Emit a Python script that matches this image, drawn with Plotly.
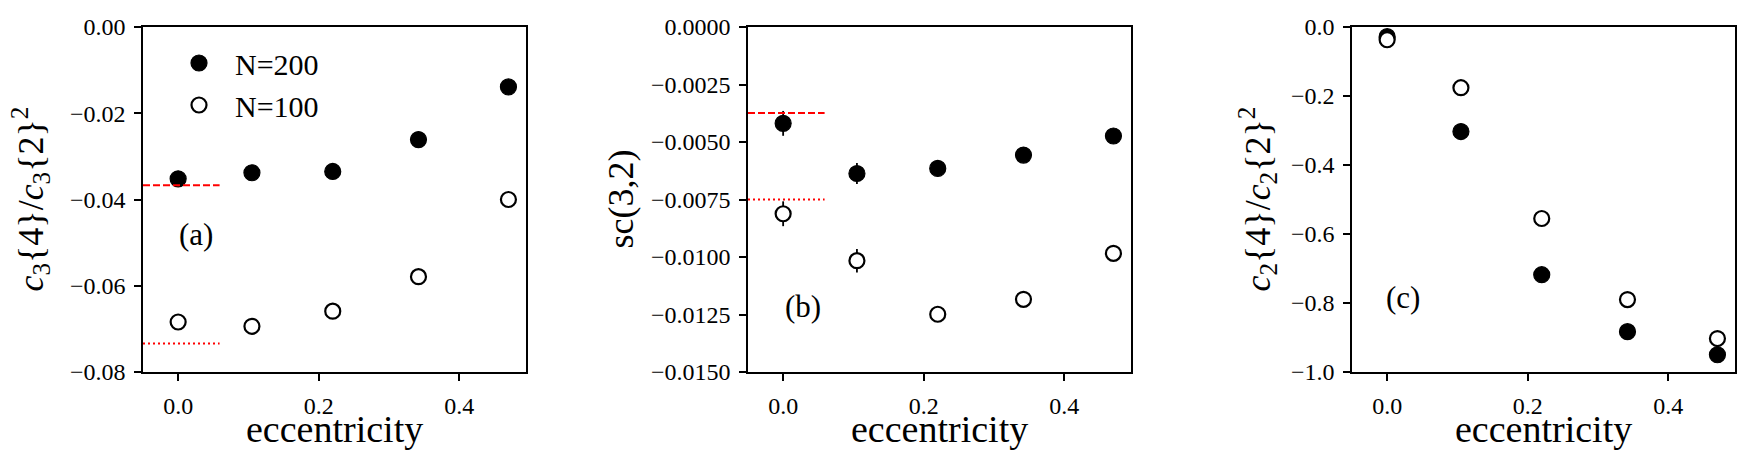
import plotly.graph_objects as go

FONT = "Liberation Serif, DejaVu Serif, serif"

# ---------------- data ----------------
ecc = [0.0, 0.105, 0.22, 0.342, 0.47]

a_n200 = [-0.0352, -0.0338, -0.0335, -0.0261, -0.0139]
a_n200_err = [0.0008, 0.0008, 0.0008, 0.0008, 0.0008]
a_n100 = [-0.0684, -0.0694, -0.0659, -0.0579, -0.0400]
a_n100_err = [0.0010, 0.0010, 0.0010, 0.0010, 0.0010]
a_ref = [-0.0367, -0.0734]          # dashed (N=200), dotted (N=100)

b_n200 = [-0.00419, -0.00637, -0.00615, -0.00557, -0.00474]
b_n200_err = [0.00054, 0.00046, 0.00030, 0.00030, 0.00030]
b_n100 = [-0.00812, -0.01016, -0.01249, -0.01184, -0.00984]
b_n100_err = [0.00054, 0.00051, 0.00030, 0.00030, 0.00030]
b_ref = [-0.00374, -0.0075]

c_n200 = [-0.028, -0.303, -0.718, -0.883, -0.950]
c_n200_err = [0.010, 0.010, 0.010, 0.010, 0.010]
c_n100 = [-0.037, -0.176, -0.555, -0.790, -0.903]
c_n100_err = [0.010, 0.010, 0.010, 0.010, 0.010]
c_ref = []

x_tickvals = [0.0, 0.2, 0.4]
x_ticktext = ["0.0", "0.2", "0.4"]

a_tickvals = [0.0, -0.02, -0.04, -0.06, -0.08]
a_ticktext = ["0.00", "\u22120.02", "\u22120.04", "\u22120.06", "\u22120.08"]
b_tickvals = [0.0, -0.0025, -0.005, -0.0075, -0.01, -0.0125, -0.015]
b_ticktext = ["0.0000", "\u22120.0025", "\u22120.0050", "\u22120.0075",
              "\u22120.0100", "\u22120.0125", "\u22120.0150"]
c_tickvals = [0.0, -0.2, -0.4, -0.6, -0.8, -1.0]
c_ticktext = ["0.0", "\u22120.2", "\u22120.4", "\u22120.6", "\u22120.8", "\u22121.0"]

y_ranges = [[-0.08, 0.0], [-0.015, 0.0], [-1.0, 0.0]]
x_range = [-0.05, 0.495]

y_titles = ["<i>c</i><sub>3</sub>{4}/<i>c</i><sub>3</sub>{2}<sup>2</sup>",
            "sc(3,2)",
            "<i>c</i><sub>2</sub>{4}/<i>c</i><sub>2</sub>{2}<sup>2</sup>"]
x_title = "eccentricity"
panel_labels = ["(a)", "(b)", "(c)"]
panel_label_x = [0.025, 0.028, 0.023]
panel_label_y = [-0.0482, -0.01217, -0.785]

# ---------------- layout geometry ----------------
W, H = 1763, 450
x_domains = [[143 / W, 526 / W], [748 / W, 1131 / W], [1352 / W, 1735 / W]]
y_domain = [1 - 372 / H, 1 - 27 / H]
ytitle_shift = [-113, -128, -95]

panels = [
    (a_n200, a_n200_err, a_n100, a_n100_err, a_ref, a_tickvals, a_ticktext),
    (b_n200, b_n200_err, b_n100, b_n100_err, b_ref, b_tickvals, b_ticktext),
    (c_n200, c_n200_err, c_n100, c_n100_err, c_ref, c_tickvals, c_ticktext),
]

fig = go.Figure()
shapes = []
annotations = []
layout_axes = {}

for i, (y200, e200, y100, e100, ref, tv, tt) in enumerate(panels):
    sfx = "" if i == 0 else str(i + 1)
    xa, ya = "x" + sfx, "y" + sfx
    fig.add_trace(go.Scatter(
        x=ecc, y=y200, mode="markers", name="N=200",
        showlegend=(i == 0), xaxis=xa, yaxis=ya,
        marker=dict(size=16, color="black", line=dict(color="black", width=1.2)),
        error_y=dict(type="data", array=e200, color="black", thickness=1.8, width=0),
        cliponaxis=True,
    ))
    fig.add_trace(go.Scatter(
        x=ecc, y=y100, mode="markers", name="N=100",
        showlegend=(i == 0), xaxis=xa, yaxis=ya,
        marker=dict(size=15, color="white", line=dict(color="black", width=2.2)),
        error_y=dict(type="data", array=e100, color="black", thickness=1.8, width=0),
        cliponaxis=True,
    ))
    dashes = ["7px,3px", "2px,3px"]
    for j, val in enumerate(ref):
        shapes.append(dict(type="line", xref=xa + " domain", yref=ya,
                           x0=0, x1=0.2, y0=val, y1=val,
                           line=dict(color="red", width=2, dash=dashes[j])))
    axis_common = dict(
        ticks="outside", ticklen=7, tickwidth=1.5, tickcolor="black",
        showline=True, linecolor="black", linewidth=1.5, mirror=True,
        showgrid=False, zeroline=False, automargin=False,
        tickfont=dict(family=FONT, size=24, color="black"),
    )
    layout_axes["xaxis" + sfx] = dict(
        domain=x_domains[i], range=x_range, anchor=ya,
        tickmode="array", tickvals=x_tickvals, ticktext=x_ticktext,
        ticklabelstandoff=4, **axis_common)
    layout_axes["yaxis" + sfx] = dict(
        domain=y_domain, range=y_ranges[i], anchor=xa,
        tickmode="array", tickvals=tv, ticktext=tt, ticklabelstandoff=4,
        **axis_common)
    annotations.append(dict(text=x_title, xref=xa + " domain", yref=ya + " domain",
                            x=0.5, y=0, xanchor="center", yanchor="middle",
                            yshift=-57, showarrow=False,
                            font=dict(family=FONT, size=38, color="black")))
    annotations.append(dict(text=y_titles[i], xref=xa + " domain", yref=ya + " domain",
                            x=0, y=0.5, xanchor="center", yanchor="middle",
                            xshift=ytitle_shift[i], textangle=-90, showarrow=False,
                            font=dict(family=FONT, size=36, color="black")))
    annotations.append(dict(text=panel_labels[i], xref=xa, yref=ya,
                            x=panel_label_x[i], y=panel_label_y[i],
                            xanchor="center", yanchor="middle", showarrow=False,
                            font=dict(family=FONT, size=31, color="black")))

fig.update_layout(
    width=W, height=H,
    margin=dict(l=0, r=0, t=0, b=0),
    paper_bgcolor="white", plot_bgcolor="white",
    showlegend=True,
    legend=dict(x=163 / W, y=1 - 37 / H, xanchor="left", yanchor="top",
                bgcolor="rgba(0,0,0,0)", borderwidth=0,
                font=dict(family=FONT, size=30, color="black"),
                itemwidth=62),
    shapes=shapes,
    annotations=annotations,
    **layout_axes,
)

fig.write_html("out.html")
